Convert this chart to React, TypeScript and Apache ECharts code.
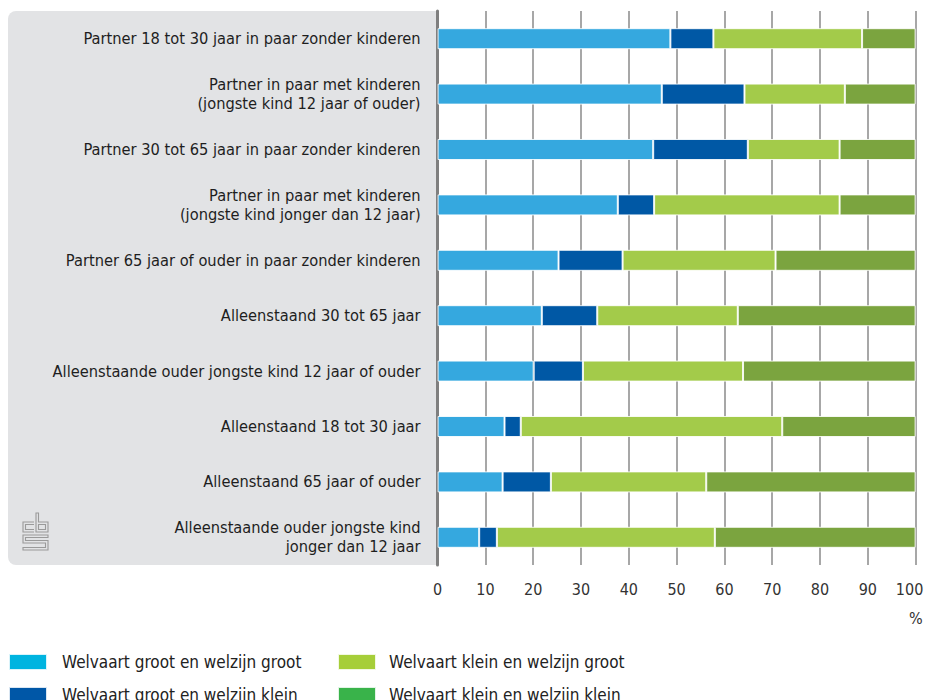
import React, { useEffect, useRef } from "react";
import * as echarts from "echarts";

const categories = [
  "Partner 18 tot 30 jaar in paar zonder kinderen",
  "Partner in paar met kinderen\n(jongste kind 12 jaar of ouder)",
  "Partner 30 tot 65 jaar in paar zonder kinderen",
  "Partner in paar met kinderen\n(jongste kind jonger dan 12 jaar)",
  "Partner 65 jaar of ouder in paar zonder kinderen",
  "Alleenstaand 30 tot 65 jaar",
  "Alleenstaande ouder jongste kind 12 jaar of ouder",
  "Alleenstaand 18 tot 30 jaar",
  "Alleenstaand 65 jaar of ouder",
  "Alleenstaande ouder jongste kind\njonger dan 12 jaar",
];

const seriesNames = [
  "Welvaart groot en welzijn groot",
  "Welvaart groot en welzijn klein",
  "Welvaart klein en welzijn groot",
  "Welvaart klein en welzijn klein",
];

const grootGroot = [48.7, 46.9, 45.1, 37.7, 25.3, 21.8, 20.1, 14.0, 13.6, 8.7];
const grootKlein = [9.0, 17.3, 19.8, 7.6, 13.4, 11.6, 10.3, 3.4, 10.1, 3.7];
const kleinGroot = [31.1, 21.0, 19.2, 38.8, 32.0, 29.4, 33.5, 54.7, 32.5, 45.6];
const kleinKlein = [11.2, 14.8, 15.9, 15.9, 29.3, 37.2, 36.1, 27.9, 43.8, 42.0];

const barColors = ["#35a8df", "#0058a5", "#a3cb4a", "#7ba43f"];
const legendColors = ["#00b4e0", "#0057a7", "#a6ce39", "#39b34a"];

const FONT = "'Liberation Sans Narrow', 'DejaVu Sans Condensed', 'Liberation Sans', sans-serif";

export default function App() {
  const ref = useRef<HTMLDivElement>(null);
  useEffect(() => {
    if (!ref.current) return;
    const chart = echarts.init(ref.current, undefined, { renderer: "svg" });
    const values = [grootGroot, grootKlein, kleinGroot, kleinKlein];
    const logoStyle = { stroke: "#9a9a9a", fill: "none", lineWidth: 1.1 };
    const legendBase = {
      top: 653,
      orient: "vertical",
      padding: 0,
      itemWidth: 38,
      itemHeight: 16,
      itemGap: 15,
      icon: "rect",
    };
    const option: any = {
      animation: false,
      textStyle: { fontFamily: FONT },
      grid: { left: 437.6, right: 10.4, top: 11, bottom: 235, outerBoundsMode: "none", containLabel: false },
      xAxis: {
        type: "value",
        min: 0,
        max: 100,
        interval: 10,
        axisLine: { show: false },
        axisTick: { show: false },
        axisLabel: {
          fontSize: 16,
          color: "#333",
          margin: 16,
          fontFamily: FONT,
          formatter: (v: number) => (v === 100 ? "{r|100}" : String(v)),
          rich: { r: { fontSize: 16, color: "#333", fontFamily: FONT, padding: [0, 12, 0, 0] } },
        },
        splitLine: { show: true, lineStyle: { color: "#8a8a8a", width: 1.5 } },
      },
      yAxis: {
        type: "category",
        inverse: true,
        data: categories,
        axisLine: { show: true, lineStyle: { color: "#7f7f7f", width: 3 } },
        axisTick: { show: false },
        axisLabel: {
          fontSize: 16.3,
          color: "#1e1e1e",
          margin: 17,
          lineHeight: 19,
          align: "right",
          fontFamily: FONT,
        },
      },
      legend: [
        {
          ...legendBase,
          left: 8,
          textStyle: { fontSize: 17, color: "#222", padding: [0, 0, 0, 10], fontFamily: FONT },
          data: [0, 1].map((i) => ({ name: seriesNames[i], itemStyle: { color: legendColors[i] } })),
        },
        {
          ...legendBase,
          left: 337,
          textStyle: { fontSize: 17, color: "#222", padding: [0, 0, 0, 8], fontFamily: FONT },
          data: [2, 3].map((i) => ({ name: seriesNames[i], itemStyle: { color: legendColors[i] } })),
        },
      ],
      graphic: [
        {
          type: "rect",
          z: -10,
          silent: true,
          shape: { x: 8, y: 11, width: 430, height: 554, r: [8, 0, 0, 8] },
          style: { fill: "#e2e3e5" },
        },
        {
          type: "text",
          left: 909,
          top: 610,
          style: { text: "%", fontSize: 16, fill: "#333", fontFamily: FONT },
        },
        {
          type: "group",
          silent: true,
          children: [
            { type: "polyline", shape: { points: [[34, 522], [23, 522], [23, 532], [34, 532]] }, style: logoStyle },
            { type: "polyline", shape: { points: [[34, 524.5], [25.5, 524.5], [25.5, 529.5], [34, 529.5]] }, style: logoStyle },
            { type: "polygon", shape: { points: [[36, 513], [36, 532], [48, 532], [48, 522], [38.5, 522], [38.5, 513]] }, style: logoStyle },
            { type: "rect", shape: { x: 38.5, y: 524.5, width: 7, height: 5 }, style: logoStyle },
            {
              type: "polygon",
              shape: {
                points: [[48, 535], [23, 535], [23, 543], [45.5, 543], [45.5, 547.5], [23, 547.5], [23, 550], [48, 550], [48, 540.5], [25.5, 540.5], [25.5, 537.5], [48, 537.5]],
              },
              style: logoStyle,
            },
          ],
        },
      ],
      series: seriesNames.map((name, i) => ({
        name,
        type: "bar",
        stack: "total",
        barWidth: 21,
        data: values[i],
        itemStyle: { color: barColors[i], borderColor: "rgba(255,255,255,0.85)", borderWidth: 1 },
        emphasis: { disabled: true },
      })),
    };
    chart.setOption(option);
    return () => chart.dispose();
  }, []);
  return (
    <div style={{ position: "absolute", left: 0, top: 0, width: 926, height: 700, overflow: "hidden" }}>
      <div ref={ref} style={{ width: 926, height: 800 }} />
    </div>
  );
}
